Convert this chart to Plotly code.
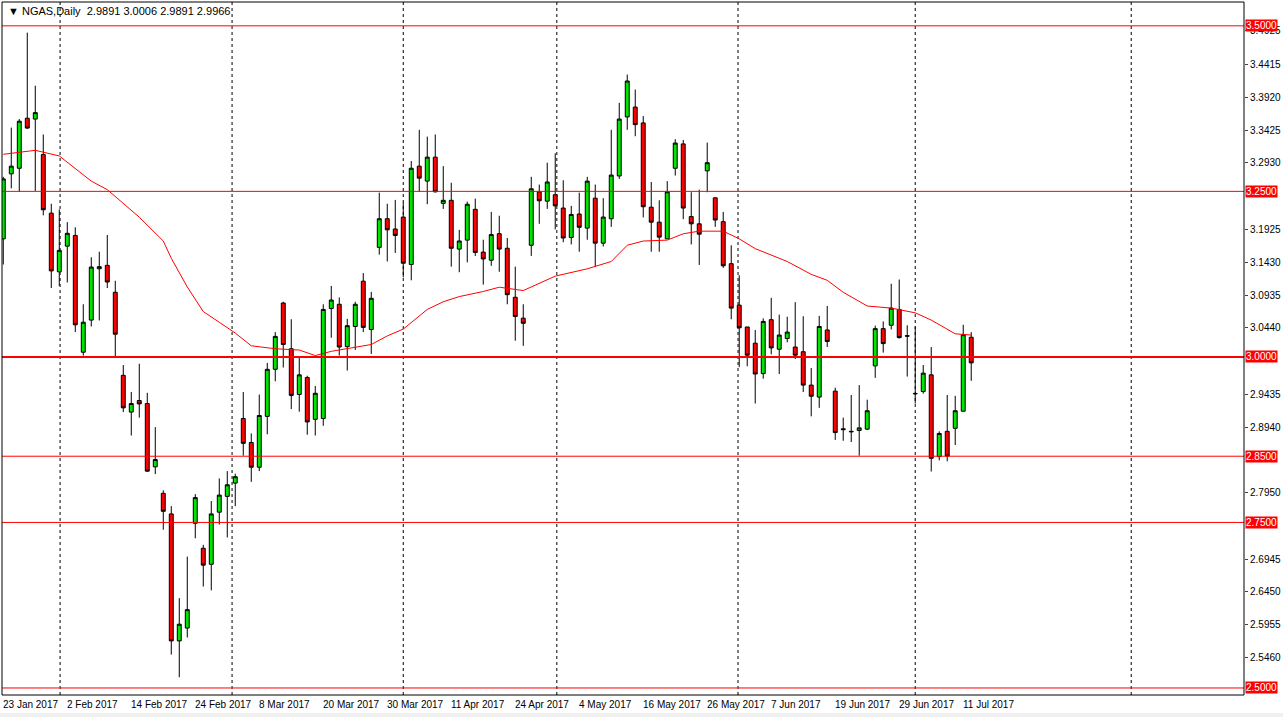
import plotly.graph_objects as go

bars = list(range(122))
opens = [3.1783,3.2765,3.2849,3.3605,3.3592,3.3056,3.2171,3.1286,3.1673,3.1835,
 3.0071,3.0556,3.1331,3.1383,3.0976,2.9722,2.9167,2.9341,2.9296,2.8340,
 2.7940,2.7629,2.5711,2.5905,2.7487,2.7110,2.6868,2.7655,2.7894,2.8094,
 2.9070,2.8708,2.8334,2.9102,2.9813,3.0814,3.0123,2.9432,2.9690,2.9057,
 2.9070,3.0730,3.0795,3.0155,3.0459,3.1144,3.0414,3.1654,3.2087,3.1932,
 3.2112,3.1396,3.2881,3.2655,3.3017,3.2319,3.2365,3.1628,3.1764,3.2229,
 3.1583,3.1460,3.1861,3.1641,3.0901,3.0585,3.1686,3.2494,3.2352,3.2449,
 3.2248,3.1803,3.2158,3.1945,3.2397,3.1718,3.2087,3.2733,3.3624,3.3773,
 3.3534,3.2261,3.2035,3.1783,3.2849,3.3217,3.2119,3.2010,3.2810,3.2403,
 3.2042,3.1408,3.0782,3.0452,3.0207,2.9748,3.0562,3.0116,3.0278,3.0149,
 3.0078,2.9574,2.9393,3.0407,2.9483,2.8915,2.8876,2.8889,2.8909,2.9865,
 3.0427,3.0478,3.0717,3.0320,2.9448,2.9477,2.9729,2.8495,2.8876,2.8922,
 2.9180,3.0297]
highs = [3.2720,3.3463,3.3592,3.4897,3.4096,3.3360,3.2313,3.2229,3.2035,3.1958,
 3.0795,3.1505,3.1589,3.1841,3.1150,2.9877,2.9471,2.9897,2.9458,2.8940,
 2.7985,2.7746,2.6357,2.6984,2.7927,2.7162,2.7823,2.8165,2.8275,2.8236,
 2.9470,2.8844,2.9432,2.9910,3.0375,3.0833,3.0569,2.9987,2.9716,2.9561,
 3.0795,3.1072,3.0898,3.0575,3.0833,3.1266,3.0982,3.2481,3.2313,3.2371,
 3.2332,3.2959,3.3430,3.3327,3.3360,3.2881,3.2630,3.1919,3.2345,3.2390,
 3.1770,3.2190,3.2132,3.1796,3.1363,3.0795,3.2720,3.2603,3.2933,3.3075,
 3.2668,3.2281,3.2481,3.2720,3.2603,3.2397,3.3430,3.3837,3.4264,3.4038,
 3.3637,3.2642,3.2365,3.2655,3.3288,3.3276,3.2487,3.2526,3.3237,3.2403,
 3.2190,3.1686,3.1234,3.0452,3.0407,3.0582,3.0892,3.0639,3.0607,3.0827,
 3.0614,2.9832,3.0620,3.0769,2.9535,2.9083,2.9425,2.9574,2.9354,3.0472,
 3.0536,3.1105,3.1169,3.0478,3.0459,2.9878,3.0149,2.8876,2.9425,2.9412,
 3.0485,3.0375]
lows = [3.1396,3.2545,3.2494,3.3443,3.2507,3.2138,3.1040,3.1072,3.1124,3.0375,
 3.0020,3.0459,3.0550,3.1040,3.0007,2.9167,2.8812,2.9083,2.8262,2.8230,
 2.7390,2.5504,2.5162,2.5762,2.7261,2.6532,2.6474,2.7468,2.7274,2.7746,
 2.8508,2.8114,2.8275,2.8831,2.9632,2.9839,2.9212,2.9173,2.8825,2.8812,
 2.8960,3.0290,3.0020,2.9794,3.0104,3.0375,3.0045,3.1544,3.1441,3.1570,
 3.1202,3.1157,3.2494,3.2306,3.2481,3.2235,3.1363,3.1279,3.1428,3.1525,
 3.1092,3.1376,3.1286,3.0795,3.0245,3.0168,3.1525,3.2010,3.2235,3.1925,
 3.1732,3.1699,3.1589,3.1770,3.1363,3.1667,3.1964,3.2688,3.3430,3.3333,
 3.2106,3.1589,3.1589,3.1783,3.2739,3.2080,3.1699,3.1389,3.2487,3.1964,
 3.1344,3.0569,2.9845,2.9858,2.9296,2.9671,3.0039,2.9742,3.0220,2.9968,
 2.9470,2.9102,2.9231,3.0149,2.8747,2.8734,2.8714,2.8508,2.8896,2.9684,
 3.0065,3.0414,3.0278,2.9703,2.9296,2.9445,2.8269,2.8437,2.8424,2.8669,
 2.9180,2.9639]
closes = [3.2688,3.2881,3.3560,3.3456,3.3689,3.2222,3.1299,3.1609,3.1867,3.0485,
 3.0524,3.1357,3.1363,3.1131,3.0343,2.9231,2.9296,2.9290,2.8275,2.8450,
 2.7668,2.5711,2.5963,2.6183,2.7875,2.6855,2.7629,2.7913,2.8069,2.8191,
 2.8695,2.8334,2.9115,2.9813,3.0310,3.0187,2.9419,2.9729,2.9018,2.9451,
 3.0717,3.0859,3.0149,3.0472,3.0795,3.0446,3.0885,3.2087,3.1919,3.1835,
 3.1415,3.2849,3.2700,3.3017,3.2494,3.2365,3.1641,3.1751,3.2306,3.1577,
 3.1479,3.1848,3.1628,3.0940,3.0610,3.0508,3.2539,3.2358,3.2642,3.2281,
 3.1796,3.2151,3.1958,3.2655,3.1718,3.2112,3.2746,3.3592,3.4167,3.3508,
 3.2268,3.2035,3.1809,3.2494,3.3230,3.2248,3.2010,3.1854,3.2933,3.2067,
 3.1376,3.0737,3.0440,3.0026,2.9742,3.0536,3.0136,3.0330,3.0375,3.0026,
 2.9574,2.9406,3.0459,3.0233,2.8857,2.8902,2.8870,2.8928,2.9187,3.0427,
 3.0201,3.0737,3.0291,3.0314,2.9444,2.9755,2.8469,2.8844,2.8502,2.9187,
 3.0336,2.9910]

ma_bar = [0,4,7,9,11,13,17,20,21,23,25,27,29,31,34,37,39,41,46,48,50,53,55,57,60,62,
          65,69,73,76,78,80,83,85,87,90,92,94,98,101,103,105,108,111,114,116,119,121]
ma_val = [3.306,3.312,3.3035,3.284,3.2655,3.2526,3.211,3.175,3.149,3.1057,3.0685,3.0523,
          3.036,3.0168,3.0123,3.0104,3.002,3.0084,3.0187,3.0317,3.042,3.0717,3.0833,3.0911,
          3.0988,3.1053,3.1002,3.122,3.133,3.1441,3.1686,3.175,3.1764,3.186,3.1899,3.1899,
          3.1783,3.1635,3.1441,3.1247,3.1157,3.0976,3.0769,3.0737,3.0666,3.0556,3.0349,3.033]

level_lines = [3.5, 3.25, 3.0, 2.85, 2.75, 2.5]
level_labels = ["3.5000", "3.2500", "3.0000", "2.8500", "2.7500", "2.5000"]
tick_vals = [3.4925,3.4415,3.3920,3.3425,3.2930,3.1925,3.1430,3.0935,3.0440,
             2.9435,2.8940,2.7950,2.6945,2.6450,2.5955,2.5460]
date_bars = [0,8,16,24,32,40,48,56,64,72,80,88,96,104,112,120]
date_labels = ["23 Jan 2017","2 Feb 2017","14 Feb 2017","24 Feb 2017","8 Mar 2017",
               "20 Mar 2017","30 Mar 2017","11 Apr 2017","24 Apr 2017","4 May 2017",
               "16 May 2017","26 May 2017","7 Jun 2017","19 Jun 2017","29 Jun 2017","11 Jul 2017"]
sep_bars = [7.1, 28.6, 50, 69.2, 91.85, 114, 141]

FONT = "Liberation Sans"
fig = go.Figure()
fig.add_trace(go.Candlestick(
    x=bars, open=opens, high=highs, low=lows, close=closes,
    increasing=dict(fillcolor="#00e600", line=dict(color="black", width=1)),
    decreasing=dict(fillcolor="#ff0000", line=dict(color="black", width=1)),
    whiskerwidth=0, showlegend=False, hoverinfo="skip"))
fig.add_trace(go.Scatter(x=ma_bar, y=ma_val, mode="lines",
                         line=dict(color="red", width=1), showlegend=False, hoverinfo="skip"))

shapes = []
for b in sep_bars:
    shapes.append(dict(type="line", xref="x", yref="paper", x0=b, x1=b, y0=0, y1=1,
                       line=dict(color="black", width=1, dash="dot"), layer="below"))
for v in level_lines:
    shapes.append(dict(type="line", xref="paper", yref="y", x0=0, x1=1, y0=v, y1=v,
                       line=dict(color="red", width=2 if v == 3.0 else 1)))
shapes.append(dict(type="rect", xref="paper", yref="paper", x0=0, x1=1, y0=0, y1=1,
                   line=dict(color="black", width=1)))
shapes.append(dict(type="rect", xref="paper", yref="paper", x0=-0.01, x1=1.05, y0=-0.026, y1=-0.05,
                   fillcolor="#f0f0f0", line=dict(width=0), layer="below"))

ann = []
for v, t in zip(level_lines, level_labels):
    ann.append(dict(xref="paper", yref="y", x=1, y=v, xanchor="left", yanchor="middle",
                    text=t, showarrow=False, bgcolor="red", xshift=1,
                    font=dict(family=FONT, size=10, color="white"), borderpad=0))
for b, t in zip(date_bars, date_labels):
    ann.append(dict(xref="x", yref="paper", x=b, y=0, xanchor="left", yanchor="top",
                    text=t, showarrow=False, yshift=-2, xshift=-2,
                    font=dict(family=FONT, size=10, color="black")))
ann.append(dict(xref="paper", yref="paper", x=0, y=1, xanchor="left", yanchor="top",
                text="▼ NGAS,Daily  2.9891 3.0006 2.9891 2.9966", showarrow=False,
                xshift=4, yshift=-1, font=dict(family=FONT, size=11, color="black")))

fig.update_layout(
    width=1283, height=717, paper_bgcolor="white", plot_bgcolor="white",
    margin=dict(l=2, r=39, t=2, b=22, autoexpand=False),
    shapes=shapes, annotations=ann,
    xaxis=dict(range=[-0.16, 155.1], showgrid=False, showticklabels=False, zeroline=False,
               rangeslider=dict(visible=False), fixedrange=True, automargin=False),
    yaxis=dict(range=[2.4894, 3.536], side="right", tickvals=tick_vals, automargin=False,
               ticktext=[f"{v:.4f}" for v in tick_vals], ticks="outside", ticklen=3,
               showgrid=False, zeroline=False,
               tickfont=dict(family=FONT, size=10, color="black")),
)
fig.write_html("out.html", config={"displayModeBar": False},
               post_script="document.body.style.margin='0';")
